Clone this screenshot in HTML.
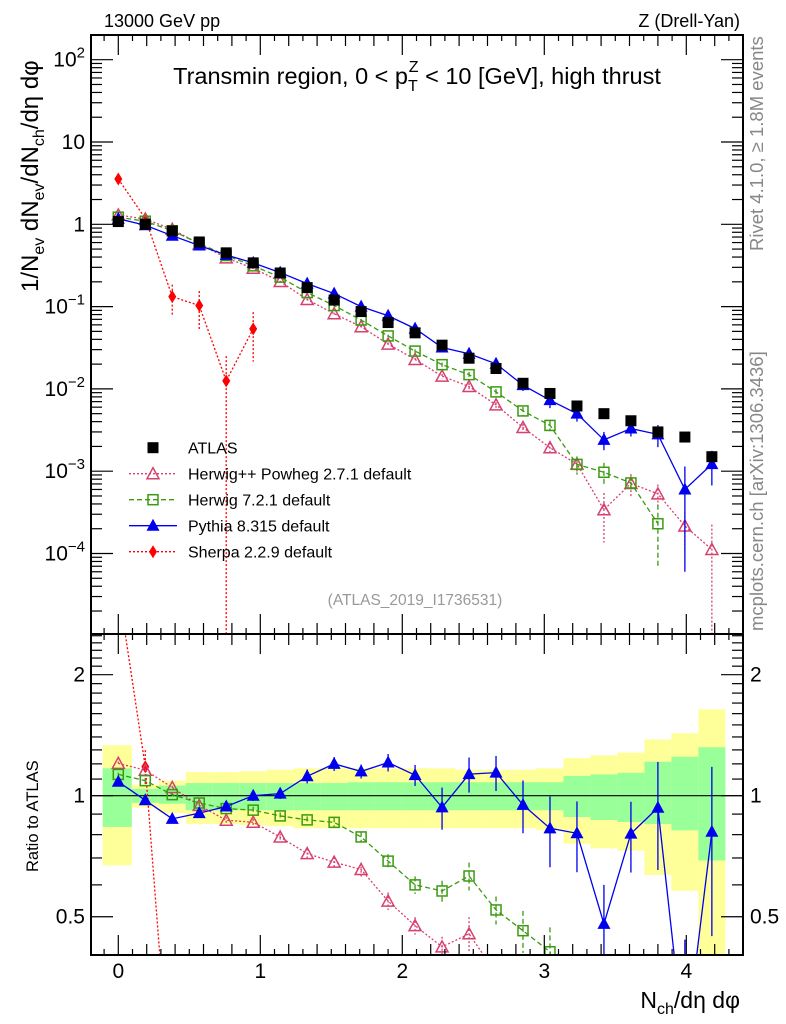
<!DOCTYPE html>
<html><head><meta charset="utf-8"><style>
html,body{margin:0;background:#fff;overflow:hidden;width:786px;height:1024px;}
svg{display:block;font-family:"Liberation Sans",sans-serif;}
</style></head><body>
<svg id="chart" width="786" height="1024" viewBox="0 0 786 1024" xmlns="http://www.w3.org/2000/svg">
<defs>
<clipPath id="cm"><rect x="91" y="35" width="652" height="599"/></clipPath>
<clipPath id="cr"><rect x="91" y="634" width="652" height="321"/></clipPath>
</defs>
<text x="104" y="27" font-size="18">13000 GeV pp</text>
<text x="740" y="27" font-size="18" text-anchor="end">Z (Drell-Yan)</text>
<text x="417" y="84" font-size="23.5" text-anchor="middle">Transmin region, 0 &lt; p<tspan font-size="16" dy="7">T</tspan><tspan font-size="16" dx="-9" dy="-19">Z</tspan><tspan dy="12"> &lt; 10 [GeV], high thrust</tspan></text>
<text transform="translate(763,251) rotate(-90)" font-size="18.5" fill="#888">Rivet 4.1.0, ≥ 1.8M events</text>
<text transform="translate(763,631) rotate(-90)" font-size="18.5" fill="#888">mcplots.cern.ch [arXiv:1306.3436]</text>
<text x="415" y="605" font-size="15.5" fill="#999" text-anchor="middle">(ATLAS_2019_I1736531)</text>
<text transform="translate(38,292) rotate(-90)" font-size="24">1/N<tspan font-size="16" dy="6">ev</tspan><tspan dy="-6"> dN</tspan><tspan font-size="16" dy="6">ev</tspan><tspan dy="-6">/dN</tspan><tspan font-size="16" dy="6">ch</tspan><tspan dy="-6">/dη dφ</tspan></text>
<text transform="translate(38,872) rotate(-90)" font-size="16.5">Ratio to ATLAS</text>
<text x="740" y="1008" font-size="23" text-anchor="end">N<tspan font-size="16" dy="6">ch</tspan><tspan dy="-6">/dη dφ</tspan></text>
<g id="bands" clip-path="url(#cr)"></g>
<g id="mainMarks" clip-path="url(#cm)"></g>
<g id="ratioMarks" clip-path="url(#cr)"></g>
<g id="axes"></g>
<g id="legend"></g>
</svg>
<script>
const xs = [0,0.19,0.38,0.57,0.76,0.95,1.14,1.33,1.52,1.71,1.9,2.09,2.28,2.47,2.66,2.85,3.04,3.23,3.42,3.61,3.8,3.99,4.18];
const atlas = [1.08,1.0,0.83,0.61,0.45,0.34,0.256,0.17,0.12,0.087,0.064,0.048,0.034,0.0236,0.0177,0.0117,0.0088,0.0062,0.0050,0.0041,0.0030,0.0026,0.0015];
const herwigpp = [1.30,1.157,0.87,0.577,0.391,0.292,0.202,0.122,0.082,0.057,0.035,0.0228,0.0143,0.0107,0.0064,0.0034,0.00193,0.00122,0.00034,0.00071,0.00053,0.000216,0.000112];
const herwigppErr = [0.01,0.01,0.01,0.01,0.02,0.02,0.02,0.03,0.03,0.04,0.05,0.05,0.06,0.1,0.08,0.1,0.15,0.2,0.6,0.3,0.3,0.5,1.0];
const herwig7 = [1.22,1.09,0.835,0.585,0.418,0.313,0.228,0.148,0.103,0.0687,0.044,0.0288,0.0197,0.0149,0.0092,0.0054,0.0036,0.00121,0.00097,0.00072,0.00023];
const herwig7Err = [0.01,0.01,0.01,0.01,0.02,0.02,0.02,0.02,0.03,0.03,0.04,0.05,0.06,0.08,0.08,0.12,0.15,0.25,0.3,0.2,0.7];
const pythia = [1.17,0.974,0.727,0.552,0.423,0.34,0.259,0.19,0.144,0.10,0.0774,0.054,0.0318,0.0267,0.0202,0.0111,0.0073,0.0050,0.0024,0.0033,0.0028,0.0006,0.00122];
const pythiaErr = [0.01,0.01,0.01,0.01,0.02,0.03,0.03,0.04,0.04,0.04,0.05,0.06,0.12,0.1,0.1,0.15,0.2,0.2,0.25,0.2,0.3,0.9,0.45];
const sherpa = [3.55,1.18,0.132,0.103,0.0125,0.0536];
const sherpaErr = [0.05,0.1,0.4,0.5,1.0,0.6];
const greenUp = [1.17,1.04,1.06,1.075,1.075,1.075,1.075,1.075,1.075,1.08,1.08,1.08,1.08,1.08,1.08,1.08,1.08,1.12,1.13,1.14,1.215,1.25,1.32];
const greenDn = [0.836,0.96,0.955,0.92,0.92,0.92,0.92,0.92,0.92,0.92,0.92,0.92,0.92,0.92,0.92,0.92,0.92,0.885,0.87,0.86,0.85,0.82,0.69];
const yellowUp = [1.335,1.065,1.09,1.145,1.145,1.15,1.16,1.17,1.17,1.17,1.17,1.17,1.17,1.16,1.16,1.16,1.17,1.24,1.26,1.28,1.38,1.43,1.64];
const yellowDn = [0.671,0.935,0.905,0.85,0.85,0.845,0.84,0.83,0.83,0.83,0.83,0.83,0.83,0.83,0.83,0.83,0.82,0.76,0.74,0.73,0.635,0.58,0.38];
const yTickExp = [2,1,0,-1,-2,-3,-4];
const xTickLabels = [0,1,2,3,4];
const ratioTickLabels = [0.5,1,2];

const NS="http://www.w3.org/2000/svg";
const L=91,R=743,T=35,B1=634,B2=955;
const X=v=>118.3+142*v;
const YM=v=>224.3-82.3*Math.log10(v);
const YR=r=>795.7-402*Math.log10(r);
function mk(tag,attrs,parent){const e=document.createElementNS(NS,tag);for(const k in attrs)e.setAttribute(k,attrs[k]);parent.appendChild(e);return e;}
const gBands=document.getElementById('bands'),gMain=document.getElementById('mainMarks'),gRatio=document.getElementById('ratioMarks'),gAx=document.getElementById('axes'),gLeg=document.getElementById('legend');

for(let i=0;i<xs.length;i++){
  const x0=i===0?-0.11:xs[i]-0.095, x1=xs[i]+0.095;
  const yyb=Math.min(YR(yellowDn[i]),B2);
  let r=mk('rect',{x:X(x0),y:YR(yellowUp[i]),width:X(x1)-X(x0),height:yyb-YR(yellowUp[i]),fill:'#ffff99'},gBands);
  
  
  r=mk('rect',{x:X(x0),y:YR(greenUp[i]),width:X(x1)-X(x0),height:YR(greenDn[i])-YR(greenUp[i]),fill:'#99ff99'},gBands);
  
  
}
const one=mk('line',{x1:L,x2:R,y1:YR(1),y2:YR(1),stroke:'#000','stroke-width':1.2},gBands);



function marker(g,type,cx,cy,color){
  let e;
  if(type==='sq') e=mk('rect',{x:cx-5.5,y:cy-5.5,width:11,height:11,fill:color},g);
  else if(type==='osq') e=mk('rect',{x:cx-5,y:cy-5,width:10,height:10,fill:'none',stroke:color,'stroke-width':1.5},g);
  else if(type==='otri') e=mk('polygon',{points:`${cx},${cy-6} ${cx-6},${cy+5} ${cx+6},${cy+5}`,fill:'none',stroke:color,'stroke-width':1.5},g);
  else if(type==='tri') e=mk('polygon',{points:`${cx},${cy-7} ${cx-6.5},${cy+5} ${cx+6.5},${cy+5}`,fill:color},g);
  else e=mk('polygon',{points:`${cx},${cy-6.5} ${cx-4},${cy} ${cx},${cy+6.5} ${cx+4},${cy}`,fill:color},g);
  return e;
}
function clampY(y,lo,hi){return Math.max(lo-20,Math.min(hi+20,y));}
function series(g,name,vals,errs,Y,color,dash,type,ref,lo,hi){
  const pts=[];
  for(let i=0;i<vals.length;i++){
    let v=ref?vals[i]/ref[i]:vals[i];
    pts.push([X(xs[i]),Y(v)]);
  }
  const pl=mk('polyline',{points:pts.map(p=>p.join(',')).join(' '),fill:'none',stroke:color,'stroke-width':1.3,'stroke-dasharray':dash},g);
  
  
  for(let i=0;i<vals.length;i++){
    let v=ref?vals[i]/ref[i]:vals[i];
    const e=errs[i];
    const yt=clampY(Y(v*(1+e)),lo,hi), yb=e>=0.999?hi+5:clampY(Y(v*(1-e)),lo,hi);
    const eb=mk('line',{x1:pts[i][0],x2:pts[i][0],y1:yt,y2:yb,stroke:color,'stroke-width':1.3,'stroke-dasharray':dash},g);
    
    
    const m=marker(g,type,pts[i][0],pts[i][1],color);
    
    
  }
}
series(gMain,'sherpa',sherpa,sherpaErr,YM,'#ff0000','2,2','dia',null,T,B1);
series(gMain,'herwigpp-powheg',herwigpp,herwigppErr,YM,'#d6406f','2,2','otri',null,T,B1);
series(gMain,'herwig7',herwig7,herwig7Err,YM,'#3a9a10','5,3','osq',null,T,B1);
series(gMain,'pythia',pythia,pythiaErr,YM,'#0000ee','','tri',null,T,B1);
for(let i=0;i<atlas.length;i++){
  const m=marker(gMain,'sq',X(xs[i]),YM(atlas[i]),'#000');
  
  
}
series(gRatio,'sherpa-ratio',sherpa,sherpaErr,YR,'#ff0000','2,2','dia',atlas,B1,B2);
series(gRatio,'herwigpp-powheg-ratio',herwigpp,herwigppErr,YR,'#d6406f','2,2','otri',atlas,B1,B2);
series(gRatio,'herwig7-ratio',herwig7,herwig7Err,YR,'#3a9a10','5,3','osq',atlas,B1,B2);
series(gRatio,'pythia-ratio',pythia,pythiaErr,YR,'#0000ee','','tri',atlas,B1,B2);

for(const [y0,y1,n] of [[T,B1,'main-frame'],[B1,B2,'ratio-frame']]){
  const f=mk('rect',{x:L,y:y0,width:R-L,height:y1-y0,fill:'none',stroke:'#000','stroke-width':2},gAx);
  
  
}
function tick(x1,y1,x2,y2){mk('line',{x1,y1,x2,y2,stroke:'#000','stroke-width':1.2},gAx);}
for(let k=-1;k<=43;k++){
  const v=k/10, x=X(v); if(x<L+1||x>R-1) continue;
  const len=k%10===0?20:(k%2===0?11:6);
  tick(x,B1,x,B1-len);tick(x,T,x,T+len);
  tick(x,B2,x,B2-len);tick(x,B1,x,B1+len);
}
for(const v of xTickLabels){
  const t=mk('text',{x:X(v),y:978,'font-size':21,'text-anchor':'middle'},gAx);t.textContent=v;
  
  
}
for(let d=-5;d<=2;d++){
  for(let m=1;m<=9;m++){
    const y=YM(m*Math.pow(10,d)); if(y<T+1||y>B1-1) continue;
    const len=m===1?22:11;
    tick(L,y,L+len,y);tick(R,y,R-len,y);
  }
}
for(const e of yTickExp){
  const t=mk('text',{x:85,y:YM(Math.pow(10,e))+7,'font-size':21,'text-anchor':'end'},gAx);
  if(e===0) t.textContent='1'; else if(e===1) t.textContent='10';
  else {t.textContent='10';const s=mk('tspan',{'font-size':15,dy:-9},t);s.textContent=String(e).replace('-','−');}
  
  
}
for(let k=4;k<=25;k++){
  const r=k/10,y=YR(r); if(y<B1+1||y>B2-1) continue;
  const len=(k===5||k===10||k===20)?22:11;
  tick(L,y,L+len,y);tick(R,y,R-len,y);
}
for(const r of ratioTickLabels){
  for(const [x,a] of [[85,'end'],[750,'start']]){
    const t=mk('text',{x,y:YR(r)+7,'font-size':21,'text-anchor':a},gAx);t.textContent=r;
    
    
  }
}
const leg=[['ATLAS','#000','','sq'],['Herwig++ Powheg 2.7.1 default','#d6406f','2,2','otri'],['Herwig 7.2.1 default','#3a9a10','5,3','osq'],['Pythia 8.315 default','#0000ee','','tri'],['Sherpa 2.2.9 default','#ff0000','2,2','dia']];
leg.forEach((l,i)=>{
  const y=447.7+26*i;
  const g=mk('g',{},gLeg);
  
  
  if(i>0) mk('line',{x1:129,x2:177,y1:y,y2:y,stroke:l[1],'stroke-width':1.3,'stroke-dasharray':l[2]},g);
  marker(g,l[3],153,y,l[1]);
  const t=mk('text',{x:188,y:y+6,'font-size':16},g);t.textContent=l[0];
});
</script>
</body></html>
